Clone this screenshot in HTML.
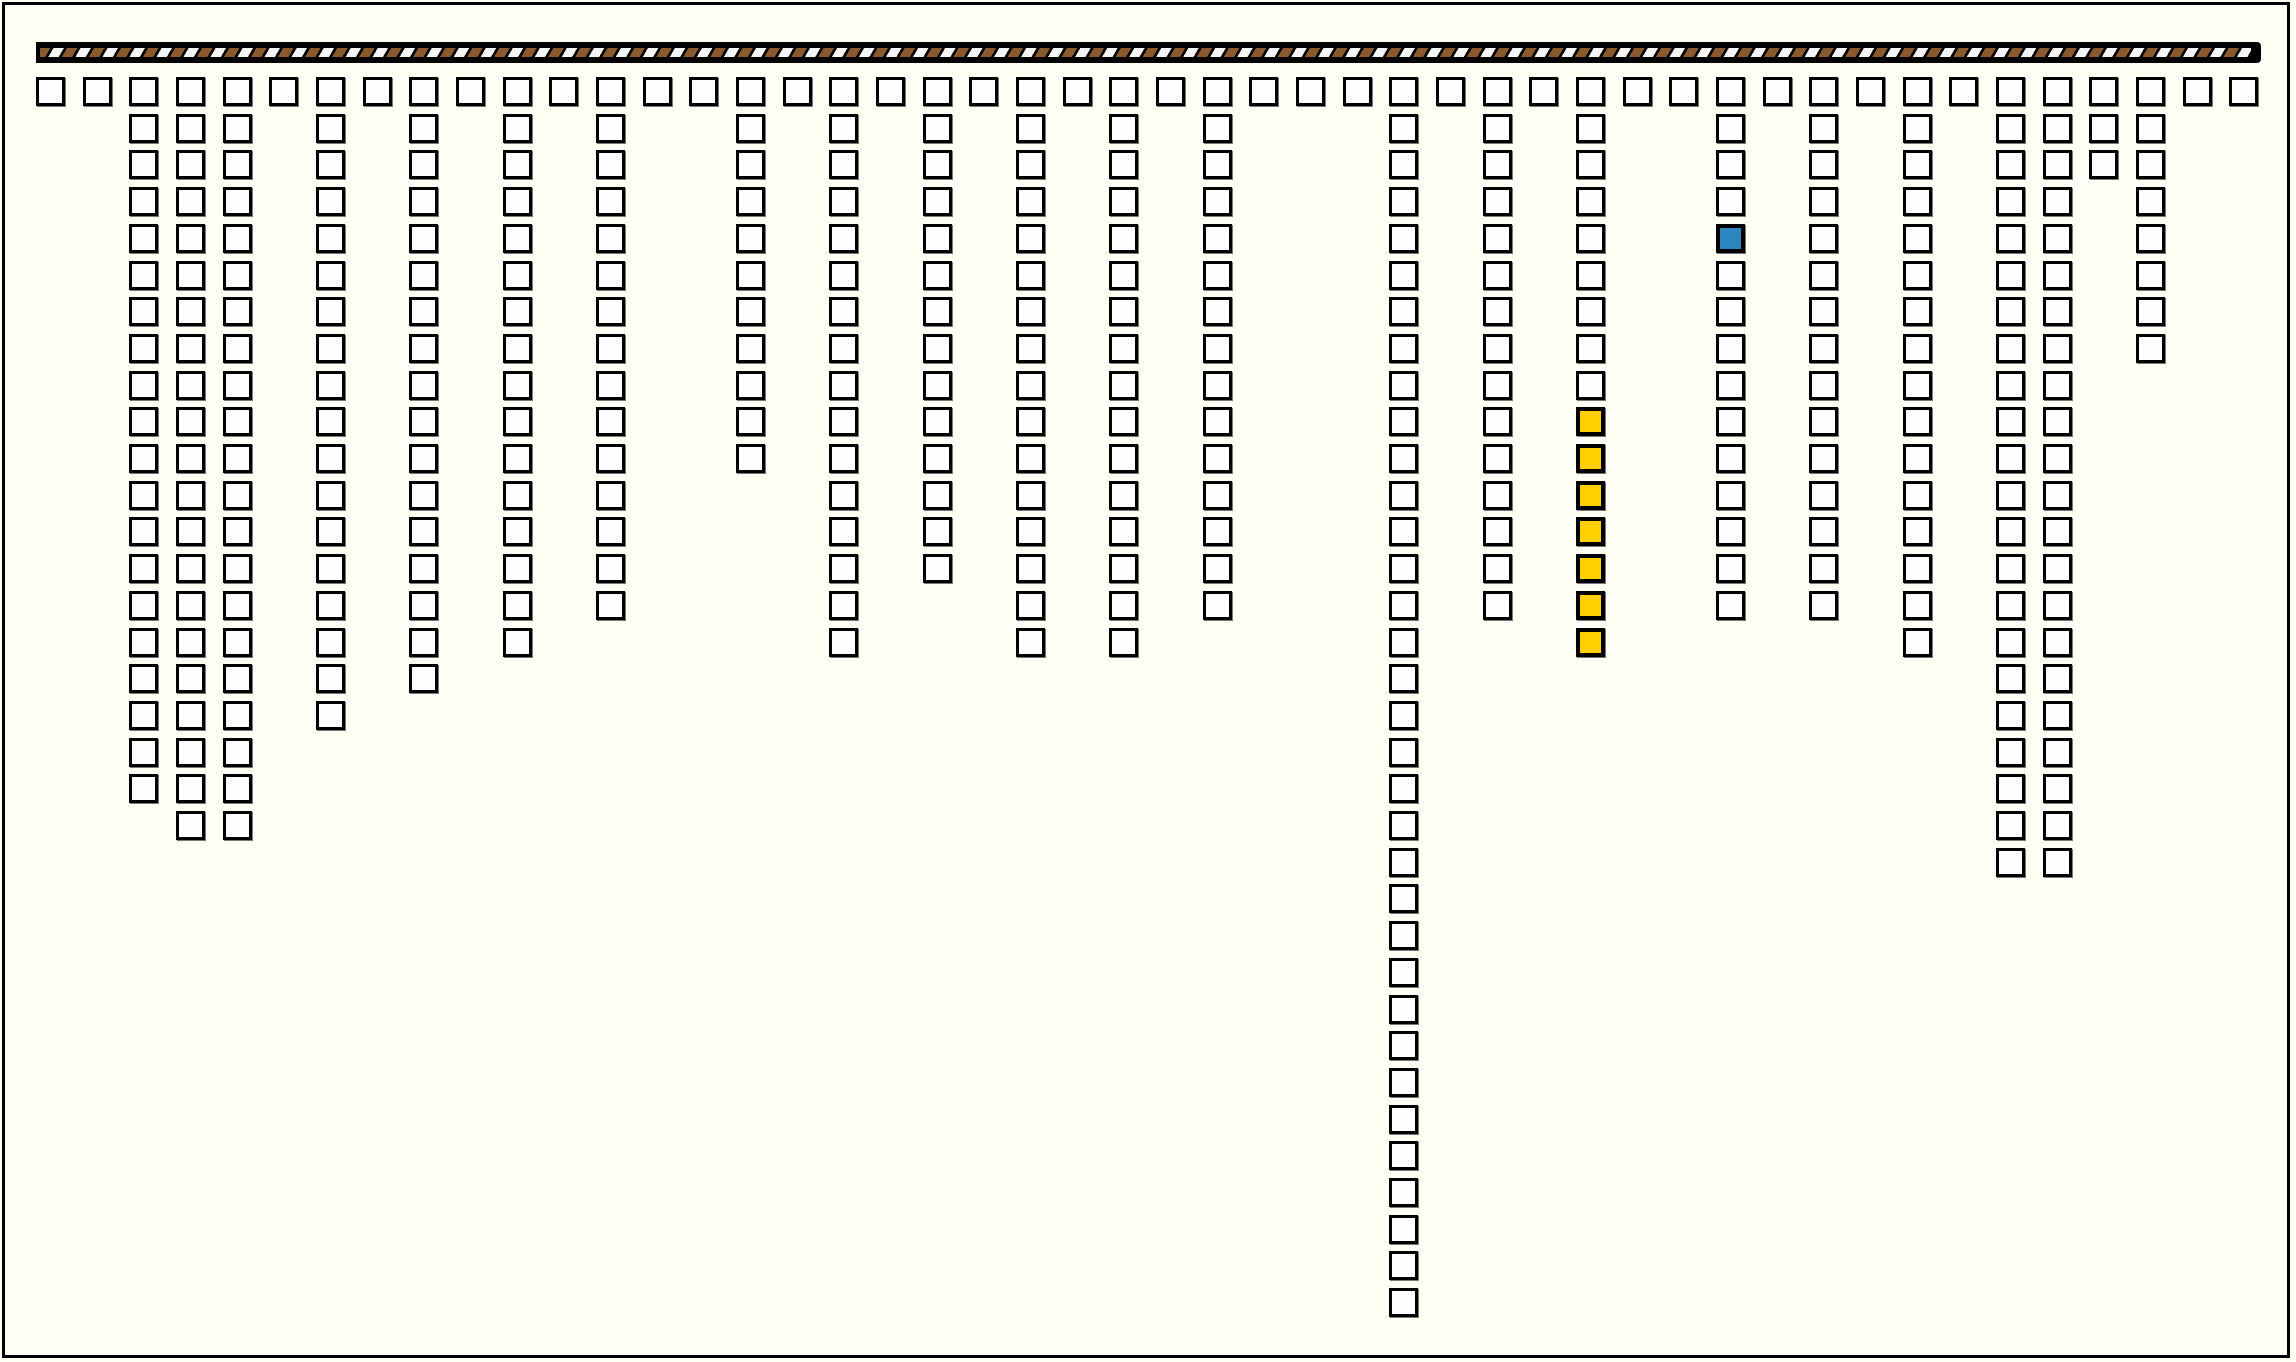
<!DOCTYPE html>
<html><head><meta charset="utf-8">
<style>
html,body{margin:0;padding:0;}
body{width:2296px;height:1362px;background:#fffff5;position:relative;overflow:hidden;}
#frame{position:absolute;left:2px;top:2px;width:2288px;height:1356px;border:3px solid #000;box-sizing:border-box;}
#bar{position:absolute;left:36px;top:42px;width:2225px;height:21px;background:#000;border-radius:0 4px 4px 0;}
#stripes{position:absolute;left:4px;right:10px;top:6px;height:9px;
background:repeating-linear-gradient(120deg,#8a5a2e 0 9px,#000 9px 11.7px,#f4f4f4 11.7px 20.7px,#000 20.7px 23.4px);}
.s{position:absolute;width:29px;height:29px;border:3px solid #000;box-sizing:border-box;background:#fdfdfd;box-shadow:1px 1px 0 #777;}
.y{background:#ffd000;border-width:4px;}
.b{background:#2e86c1;border-width:4px;}
</style></head><body>
<div id="frame"></div>
<div id="bar"><div id="stripes"></div></div>
<div id="grid"></div>
<script>
var h=[1,1,20,21,21,1,18,1,17,1,16,1,15,1,1,11,1,16,1,14,1,16,1,16,1,15,1,1,1,34,1,15,1,16,1,1,15,1,15,1,16,1,22,22,3,8,1,1];
var out='';
for(var i=0;i<h.length;i++){
 for(var r=0;r<h[i];r++){
  var x=Math.round(36+i*46.67), y=Math.round(77+r*36.7);
  var c='s';
  if(i==33&&r>=9&&r<=15)c+=' y';
  if(i==36&&r==4)c+=' b';
  out+='<div class="'+c+'" style="left:'+x+'px;top:'+y+'px"></div>';
 }
}
document.getElementById('grid').innerHTML=out;
</script>
</body></html>
